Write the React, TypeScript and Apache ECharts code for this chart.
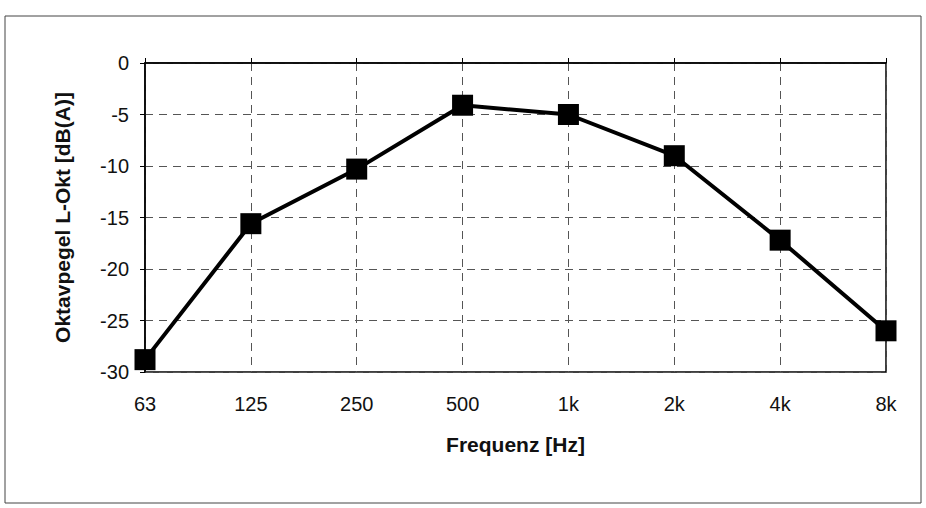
import React, { useEffect, useRef } from "react";
import * as echarts from "echarts";

const categories = ["63", "125", "250", "500", "1k", "2k", "4k", "8k"];
const levels = [-28.8, -15.6, -10.3, -4.1, -5.0, -9.0, -17.2, -26.0];
const yMin = -30;
const yMax = 0;
const yStep = 5;
const xName = "Frequenz [Hz]";
const yName = "Oktavpegel L-Okt [dB(A)]";

const FONT = "'Liberation Sans', Arial, sans-serif";

export default function App() {
  const ref = useRef<HTMLDivElement>(null);
  useEffect(() => {
    if (!ref.current) return;
    const chart = echarts.init(ref.current, undefined, { renderer: "svg" });
    const dashed = { color: "#555", width: 1, type: [8, 6] as any };
    chart.setOption({
      animation: false,
      backgroundColor: "#fff",
      textStyle: { fontFamily: FONT },
      graphic: [
        {
          type: "rect",
          shape: { x: 5, y: 16, width: 916, height: 487 },
          style: { fill: "none", stroke: "#444", lineWidth: 1 },
          silent: true,
        },
      ],
      grid: {
        left: 145,
        right: 40,
        top: 63,
        bottom: 136,
        show: true,
        borderColor: "#000",
        borderWidth: 1.5,
        backgroundColor: "transparent",
      },
      xAxis: {
        type: "category",
        data: categories,
        boundaryGap: false,
        name: xName,
        nameLocation: "middle",
        nameGap: 62,
        nameTextStyle: { fontFamily: FONT, fontSize: 21, fontWeight: "bold", color: "#111" },
        axisLine: { show: true, lineStyle: { color: "#000", width: 1.5 } },
        axisTick: { show: true, inside: true, length: 5, lineStyle: { color: "#000" } },
        axisLabel: { fontFamily: FONT, fontSize: 20, color: "#111", margin: 22 },
        splitLine: { show: true, lineStyle: dashed },
      },
      yAxis: {
        type: "value",
        min: yMin,
        max: yMax,
        interval: yStep,
        name: yName,
        nameLocation: "middle",
        nameGap: 72,
        nameTextStyle: { fontFamily: FONT, fontSize: 21, fontWeight: "bold", color: "#111" },
        axisLine: { show: true, lineStyle: { color: "#000", width: 1.5 } },
        axisTick: { show: true, inside: false, length: 5, lineStyle: { color: "#000" } },
        axisLabel: { fontFamily: FONT, fontSize: 20, color: "#111", margin: 16 },
        splitLine: { show: true, lineStyle: dashed },
      },
      series: [
        {
          type: "line",
          data: levels,
          color: "#000",
          lineStyle: { color: "#000", width: 4 },
          symbol: "rect",
          symbolSize: 21,
          itemStyle: { color: "#000" },
          z: 5,
        },
      ],
    });
    return () => chart.dispose();
  }, []);
  return (
    <div
      ref={ref}
      style={{ position: "fixed", left: 0, top: 0, width: 926, height: 508 }}
    />
  );
}
